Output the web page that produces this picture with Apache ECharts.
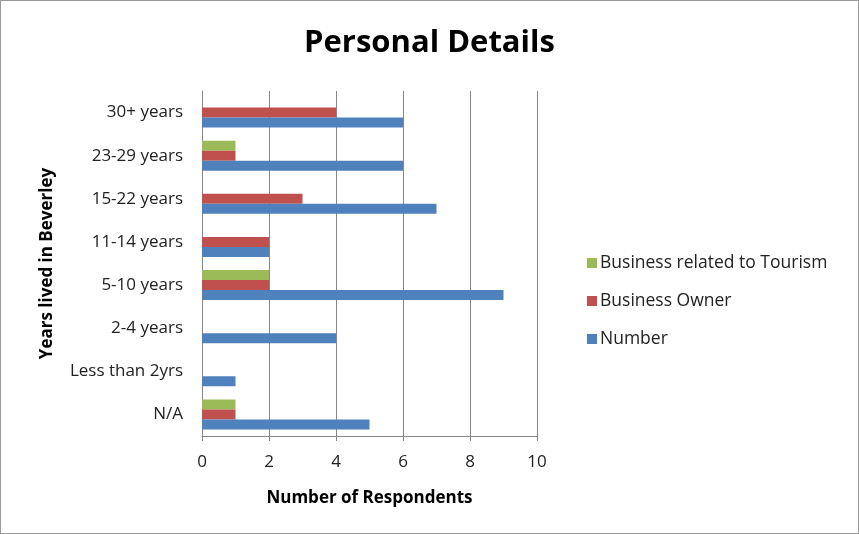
<!DOCTYPE html>
<html>
<head>
<meta charset="utf-8">
<script src="https://cdn.jsdelivr.net/npm/echarts@6/dist/echarts.min.js"></script>
<style>
html,body{margin:0;padding:0;background:#fff;}
#wrap{position:absolute;left:0;top:0;width:857px;height:532px;border:1px solid #9a9a9a;}
#chart{width:857px;height:532px;}
</style>
</head>
<body>
<div id="wrap"><div id="chart"></div></div>
<script>
const categories = ['N/A','Less than 2yrs','2-4 years','5-10 years','11-14 years','15-22 years','23-29 years','30+ years'];
const numberValues = [5,1,4,9,2,7,6,6];
const ownerValues = [1,0,0,2,2,3,1,4];
const tourismValues = [1,0,0,2,0,0,1,0];
const xTicks = {min:0, max:10, interval:2};

const FONT = 'Open Sans';
const chart = echarts.init(document.getElementById('chart'), null, {renderer:'canvas'});
chart.setOption({
  animation:false,
  textStyle:{fontFamily:FONT},
  title:{text:'Personal Details',left:'center',top:22,
    textStyle:{fontFamily:FONT,fontSize:31,fontWeight:'bold',color:'#000'}},
  legend:{orient:'vertical',left:581,top:248,itemGap:20,itemWidth:10,itemHeight:10,
    icon:'rect',
    data:['Business related to Tourism','Business Owner','Number'],
    textStyle:{fontFamily:FONT,fontSize:17.5,color:'#222',padding:[0,0,0,-2]}},
  grid:{left:201,right:321,top:90,bottom:97,containLabel:false},
  xAxis:{type:'value',min:xTicks.min,max:xTicks.max,interval:xTicks.interval,
    name:'Number of Respondents',nameLocation:'middle',nameGap:54,
    nameTextStyle:{fontFamily:FONT,fontSize:17,fontWeight:'bold',color:'#000'},
    axisLine:{show:true,lineStyle:{color:'#868686'}},
    axisTick:{show:true,length:5,lineStyle:{color:'#868686'}},
    axisLabel:{fontFamily:FONT,fontSize:17,color:'#222',margin:18},
    splitLine:{show:true,lineStyle:{color:'#868686',width:1}}},
  yAxis:{type:'category',data:categories,
    name:'Years lived in Beverley',nameLocation:'middle',nameGap:146,nameRotate:90,
    nameTextStyle:{fontFamily:FONT,fontSize:17,fontWeight:'bold',color:'#000'},
    axisLine:{show:true,lineStyle:{color:'#868686'}},
    axisTick:{show:false},
    axisLabel:{fontFamily:FONT,fontSize:17,color:'#222',margin:19}},
  series:[
    {name:'Business related to Tourism',type:'bar',data:tourismValues,barWidth:10,barGap:'0%',itemStyle:{color:'#9BBB59'}},
    {name:'Business Owner',type:'bar',data:ownerValues,barWidth:10,barGap:'0%',itemStyle:{color:'#C0504D'}},
    {name:'Number',type:'bar',data:numberValues,barWidth:10,barGap:'0%',itemStyle:{color:'#4F81BD'}}
  ]
});
</script>
</body>
</html>
